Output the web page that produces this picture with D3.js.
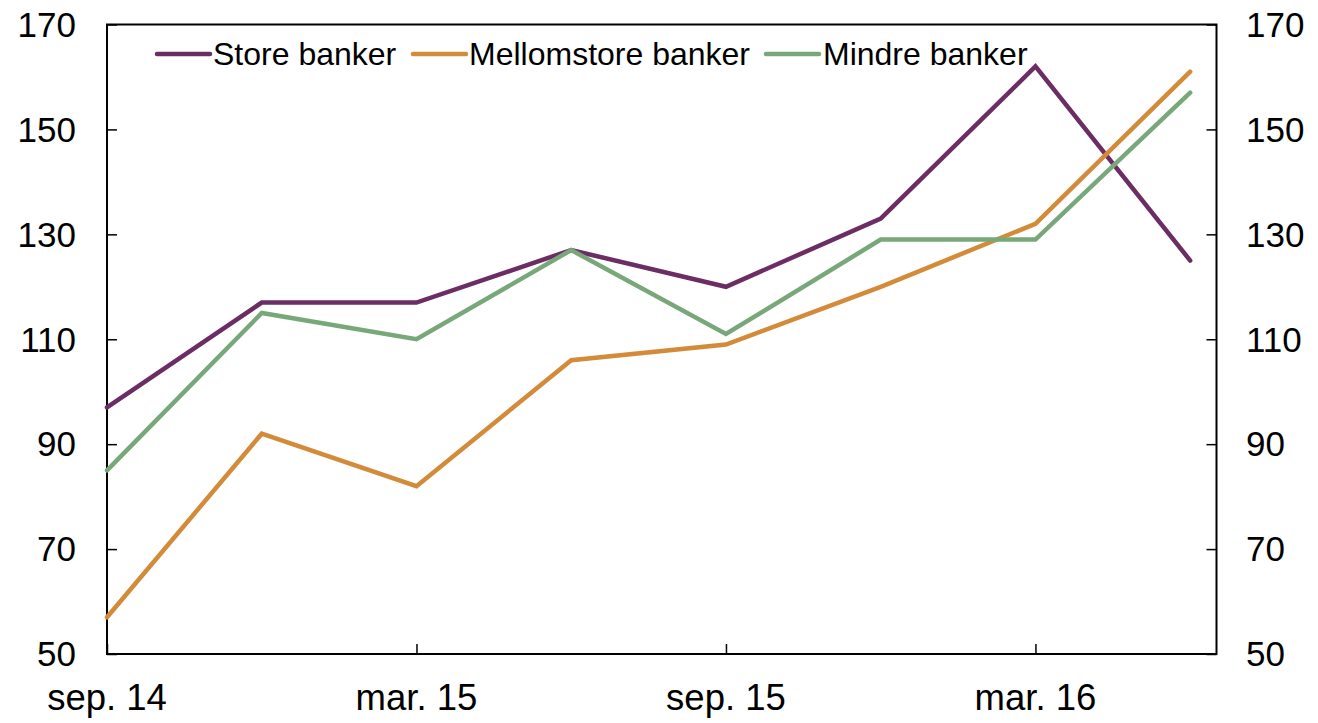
<!DOCTYPE html>
<html>
<head>
<meta charset="utf-8">
<script src="https://cdn.jsdelivr.net/npm/d3@7/dist/d3.min.js"></script>
<style>
  html, body { margin: 0; padding: 0; background: #fff; }
  svg { display: block; font-family: "Liberation Sans", Arial, sans-serif; }
</style>
</head>
<body>
<svg id="chart" width="1318" height="723"></svg>
<script>
// Quarterly observations, sep. 14 – jun. 16
const periods = ["sep. 14", "des. 14", "mar. 15", "jun. 15", "sep. 15", "des. 15", "mar. 16", "jun. 16"];
const storeBanker = [97, 117, 117, 127, 120, 133, 162, 125];
const mellomstoreBanker = [57, 92, 82, 106, 109, 120, 132, 161];
const mindreBanker = [85, 115, 110, 127, 111, 129, 129, 157];

const seriesNames = ["Store banker", "Mellomstore banker", "Mindre banker"];
const seriesColors = ["#6b2d63", "#d38b3a", "#78a87a"];
const yTicks = [50, 70, 90, 110, 130, 150, 170];
const xTickLabels = ["sep. 14", "mar. 15", "sep. 15", "mar. 16"];

const series = [storeBanker, mellomstoreBanker, mindreBanker].map((values, i) => ({
  name: seriesNames[i], color: seriesColors[i], values
}));

const svg = d3.select("#chart");
const plotLeft = 107, plotRight = 1216.5, plotTop = 24.5, plotBottom = 654;

// The axis runs a little past the last quarter
const x = d3.scaleLinear().domain([0, 7.17]).range([plotLeft, plotRight]);
const y = d3.scaleLinear().domain([50, 170]).range([plotBottom, plotTop]);

const fontSize = 35;
const xFontSize = 36.5;

// Frame
svg.append("rect")
  .attr("x", plotLeft).attr("y", plotTop)
  .attr("width", plotRight - plotLeft).attr("height", plotBottom - plotTop)
  .attr("fill", "none").attr("stroke", "#000").attr("stroke-width", 2);

// Left axis
const leftAxis = svg.append("g").attr("transform", `translate(${plotLeft},0)`)
  .call(d3.axisRight(y).tickValues(yTicks).tickSize(10).tickFormat(""));
leftAxis.select(".domain").remove();
leftAxis.selectAll("line").attr("stroke", "#000").attr("stroke-width", 1.5);

svg.append("g").selectAll("text").data(yTicks).join("text")
  .attr("x", 76).attr("y", d => y(d)).attr("dy", "0.35em")
  .attr("text-anchor", "end").attr("font-size", fontSize).attr("fill", "#000")
  .text(d => d);

// Right axis
const rightAxis = svg.append("g").attr("transform", `translate(${plotRight},0)`)
  .call(d3.axisLeft(y).tickValues(yTicks).tickSize(10).tickFormat(""));
rightAxis.select(".domain").remove();
rightAxis.selectAll("line").attr("stroke", "#000").attr("stroke-width", 1.5);

svg.append("g").selectAll("text").data(yTicks).join("text")
  .attr("x", 1246).attr("y", d => y(d)).attr("dy", "0.35em")
  .attr("text-anchor", "start").attr("font-size", fontSize).attr("fill", "#000")
  .text(d => d);

// Bottom axis: ticks every second quarter, pointing inward
const xTickIdx = xTickLabels.map(l => periods.indexOf(l));
const bottomAxis = svg.append("g").attr("transform", `translate(0,${plotBottom})`)
  .call(d3.axisTop(x).tickValues(xTickIdx).tickSize(10).tickFormat(""));
bottomAxis.select(".domain").remove();
bottomAxis.selectAll("line").attr("stroke", "#000").attr("stroke-width", 1.5);

svg.append("g").selectAll("text").data(xTickIdx).join("text")
  .attr("x", d => x(d)).attr("y", 709.5)
  .attr("text-anchor", "middle").attr("font-size", xFontSize).attr("fill", "#000")
  .text(d => periods[d]);

// Lines
const line = d3.line().x((d, i) => x(i)).y(d => y(d));
svg.append("g").selectAll("path").data(series).join("path")
  .attr("d", d => line(d.values))
  .attr("fill", "none")
  .attr("stroke", d => d.color)
  .attr("stroke-width", 4.5)
  .attr("stroke-linejoin", "miter")
  .attr("stroke-linecap", "round");

// Legend
const legendItems = [
  { x0: 157, x1: 210, tx: 213 },
  { x0: 413, x1: 466, tx: 469 },
  { x0: 766, x1: 819, tx: 823 }
];
const legendY = 54;
const legend = svg.append("g");
series.forEach((s, i) => {
  const it = legendItems[i];
  legend.append("line")
    .attr("x1", it.x0).attr("x2", it.x1).attr("y1", legendY).attr("y2", legendY)
    .attr("stroke", s.color).attr("stroke-width", 4.5).attr("stroke-linecap", "round");
  legend.append("text")
    .attr("x", it.tx).attr("y", legendY).attr("dy", "0.35em")
    .attr("font-size", 32).attr("fill", "#000")
    .text(s.name);
});
</script>
</body>
</html>
